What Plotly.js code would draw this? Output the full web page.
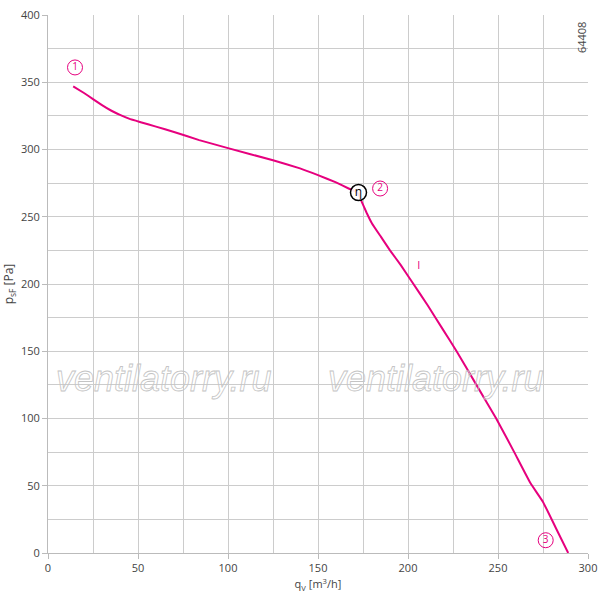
<!DOCTYPE html>
<html>
<head>
<meta charset="utf-8">
<script src="https://cdn.plot.ly/plotly-3.0.1.min.js"></script>
<style>html,body{margin:0;padding:0;background:#fff;}#chart{width:600px;height:601px;}</style>
</head>
<body>
<div id="chart"></div>
<script>
// Fan curve: static pressure vs airflow
const flowQ = [14, 20, 25, 30, 35, 40, 45, 51, 60, 70, 84, 100, 125, 140, 150, 160, 167, 172, 174, 177, 180, 185, 190, 196, 202, 211, 219, 227, 238, 249, 259, 268, 275, 282, 289];
const pressureP = [347, 342, 337.5, 333, 329, 325.8, 323, 320.5, 317, 313, 307, 301, 292, 286, 281, 275.5, 271, 268, 262, 253, 245, 235, 225, 214, 202, 184, 167, 150, 125, 100, 75, 52, 38, 19, 0];

const pointLabels = ['1', '2', '3'];
const pointQ = [15, 184.5, 276.5];
const pointP = [361, 271, 9.5];

const etaQ = [172.5];
const etaP = [268];

const curveLabelQ = [206];
const curveLabelP = [213];

const xTicks = [0, 50, 100, 150, 200, 250, 300];
const yTicks = [0, 50, 100, 150, 200, 250, 300, 350, 400];

const magenta = '#e6007e';
const fontFam = '"Open Sans", "DejaVu Sans", sans-serif';

const traces = [
  {x: flowQ, y: pressureP, mode: 'lines', line: {color: magenta, width: 2, shape: 'spline', smoothing: 0.3}, hoverinfo: 'skip'},
  {x: pointQ, y: pointP, mode: 'markers+text', text: pointLabels, textposition: 'middle center',
   textfont: {family: fontFam, size: 10, color: magenta},
   marker: {symbol: 'circle-open', size: 15, color: magenta, line: {width: 1, color: magenta}}},
  {x: etaQ, y: etaP, mode: 'markers+text', text: ['η'], textposition: 'middle center',
   textfont: {family: fontFam, size: 12, color: '#000'},
   marker: {symbol: 'circle', size: 16, color: 'rgba(255,255,255,0.9)', line: {width: 1.5, color: '#000'}}},
  {x: curveLabelQ, y: curveLabelP, mode: 'text', text: ['I'], textposition: 'middle center',
   textfont: {family: fontFam, size: 11, color: magenta}}
];

const wmFont = {family: '"Liberation Sans", Arial, sans-serif', size: 36, color: '#c8c8c8', style: 'italic'};

const layout = {
  width: 600, height: 601,
  margin: {l: 48, r: 12, t: 15, b: 48},
  paper_bgcolor: '#fff', plot_bgcolor: '#fff',
  showlegend: false,
  font: {family: fontFam, size: 11, color: '#444'},
  xaxis: {
    range: [0, 300], tickvals: xTicks, ticktext: xTicks.map(String),
    ticks: 'outside', ticklen: 5, tickcolor: '#bbb',
    showgrid: true, gridcolor: '#cccccc', gridwidth: 1,
    minor: {dtick: 25, showgrid: true, gridcolor: '#cccccc', gridwidth: 1},
    zeroline: false, showline: true, linecolor: '#bbb', mirror: false,
    title: {text: 'q<sub>V</sub> [m<sup>3</sup>/h]', font: {size: 11, color: '#444'}, standoff: 6},
    fixedrange: true
  },
  yaxis: {
    range: [0, 400], tickvals: yTicks, ticktext: yTicks.map(String),
    ticks: 'outside', ticklen: 5, tickcolor: '#bbb',
    showgrid: true, gridcolor: '#cccccc', gridwidth: 1,
    minor: {dtick: 25, showgrid: true, gridcolor: '#cccccc', gridwidth: 1},
    zeroline: false, showline: true, linecolor: '#bbb',
    title: {text: 'p<sub>sF</sub> [Pa]', font: {size: 12, color: '#444'}, standoff: 4},
    fixedrange: true
  },
  annotations: [
    {xref: 'paper', yref: 'paper', x: 0.213, y: 0.325, xanchor: 'center', yanchor: 'middle', text: 'ventilatorry.ru', showarrow: false, font: wmFont},
    {xref: 'paper', yref: 'paper', x: 0.718, y: 0.325, xanchor: 'center', yanchor: 'middle', text: 'ventilatorry.ru', showarrow: false, font: wmFont},
    {xref: 'paper', yref: 'paper', x: 0.987, y: 0.959, xanchor: 'center', yanchor: 'middle', text: '64408', textangle: -90, showarrow: false,
     font: {family: fontFam, size: 11, color: '#444'}}
  ]
};

Plotly.newPlot('chart', traces, layout, {displayModeBar: false, staticPlot: true}).then(function () {
  document.querySelectorAll('.annotation-text').forEach(function (el) {
    if (el.textContent === 'ventilatorry.ru') {
      el.style.fill = 'none';
      el.style.stroke = '#c4c4c4';
      el.style.strokeWidth = '0.8px';
    }
  });
});
</script>
</body>
</html>
